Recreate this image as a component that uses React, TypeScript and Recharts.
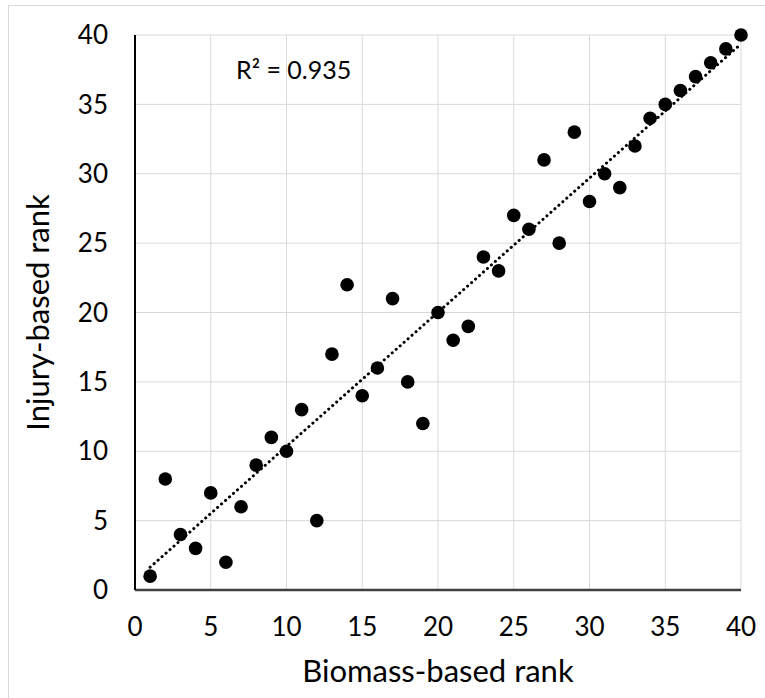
import React from 'react';
import { ScatterChart, Scatter, XAxis, YAxis, CartesianGrid, Label } from 'recharts';

const biomassRank = [1, 2, 3, 4, 5, 6, 7, 8, 9, 10, 11, 12, 13, 14, 15, 16, 17, 18, 19, 20, 21, 22, 23, 24, 25, 26, 27, 28, 29, 30, 31, 32, 33, 34, 35, 36, 37, 38, 39, 40];
const injuryRank = [1, 8, 4, 3, 7, 2, 6, 9, 11, 10, 13, 5, 17, 22, 14, 16, 21, 15, 12, 20, 18, 19, 24, 23, 27, 26, 31, 25, 33, 28, 30, 29, 32, 34, 35, 36, 37, 38, 39, 40];
const axisTicks = [0, 5, 10, 15, 20, 25, 30, 35, 40];
const r2Label = 'R² = 0.935';

const points = biomassRank.map((x, i) => ({ x, y: injuryRank[i] }));

// least-squares trendline derived from the data
const n = biomassRank.length;
const mx = biomassRank.reduce((a, b) => a + b, 0) / n;
const my = injuryRank.reduce((a, b) => a + b, 0) / n;
let sxy = 0;
let sxx = 0;
biomassRank.forEach((x, i) => {
  sxy += (x - mx) * (injuryRank[i] - my);
  sxx += (x - mx) * (x - mx);
});
const slope = sxy / sxx;
const intercept = my - slope * mx;
const xMin = Math.min(...biomassRank);
const xMax = Math.max(...biomassRank);
const trend = [
  { x: xMin, y: intercept + slope * xMin },
  { x: xMax, y: intercept + slope * xMax },
];

const FONT = 'Lato, "Open Sans", sans-serif';

const Dot = (props: any) => {
  const { cx, cy } = props;
  if (cx == null || cy == null) return null;
  return <circle cx={cx} cy={cy} r={6.8} fill="#000" />;
};

export default function App() {
  return (
    <div style={{ position: 'absolute', left: 0, top: 0, width: 765, height: 698, overflow: 'hidden', background: '#fff', fontFamily: FONT }}>
      <div style={{ position: 'absolute', left: 8, top: 5, width: 900, height: 900, border: '1px solid #d9d9d9', boxSizing: 'border-box' }} />
      <div style={{ position: 'absolute', left: 0, top: 0 }}>
        <ScatterChart width={765} height={698} margin={{ top: 35, right: 24, bottom: 48, left: 75 }}>
          <CartesianGrid stroke="#d9d9d9" strokeWidth={1} horizontalValues={axisTicks} verticalValues={axisTicks} />
          <XAxis
            type="number"
            dataKey="x"
            domain={[0, 40]}
            ticks={axisTicks}
            height={60}
            axisLine={{ stroke: '#404040', strokeWidth: 2.5 }}
            tickLine={false}
            tickSize={0}
            tickMargin={28}
            tick={{ fontSize: 26, fill: '#000', fontFamily: FONT }}
          >
            <Label value="Biomass-based rank" position="insideBottom" offset={-32} style={{ fontSize: 31, fill: '#000', fontFamily: FONT }} />
          </XAxis>
          <YAxis
            type="number"
            dataKey="y"
            domain={[0, 40]}
            ticks={axisTicks}
            width={60}
            axisLine={{ stroke: '#000', strokeWidth: 2 }}
            tickLine={false}
            tickSize={0}
            tickMargin={27}
            tick={{ fontSize: 26, fill: '#000', fontFamily: FONT }}
          >
            <Label value="Injury-based rank" angle={-90} position="insideLeft" offset={-37} style={{ fontSize: 31, fill: '#000', fontFamily: FONT, textAnchor: 'middle' }} />
          </YAxis>
          <Scatter
            data={trend}
            line={{ stroke: '#000', strokeWidth: 3, strokeDasharray: '0.1 5.2', strokeLinecap: 'round' }}
            shape={() => null}
            isAnimationActive={false}
          />
          <Scatter data={points} shape={Dot} fill="#000" isAnimationActive={false} />
        </ScatterChart>
      </div>
      <div style={{ position: 'absolute', left: 236, top: 54, fontSize: 25, color: '#000', fontFamily: FONT, whiteSpace: 'nowrap' }}>{r2Label}</div>
    </div>
  );
}
